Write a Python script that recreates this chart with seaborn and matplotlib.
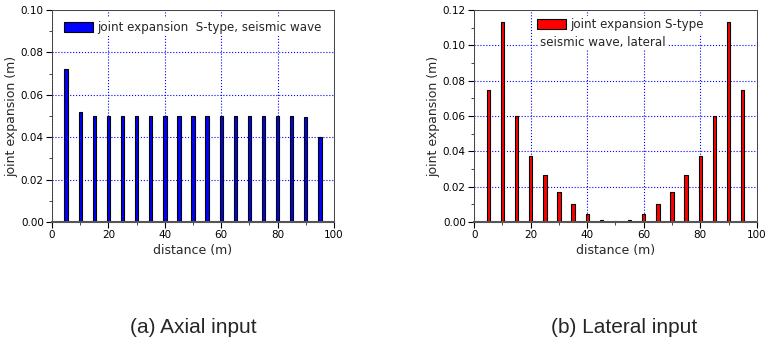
import numpy as np
import pandas as pd
import matplotlib
matplotlib.use("Agg")
import matplotlib.pyplot as plt
from matplotlib.patches import Patch
from matplotlib.ticker import MultipleLocator, FormatStrFormatter
import seaborn as sns

# data
distance = [5, 10, 15, 20, 25, 30, 35, 40, 45, 50, 55, 60, 65, 70, 75, 80, 85, 90, 95]
axial_exp = [0.072, 0.052, 0.050, 0.050, 0.050, 0.050, 0.050, 0.050, 0.050, 0.050,
             0.050, 0.050, 0.050, 0.050, 0.050, 0.050, 0.050, 0.0494, 0.040]
lateral_exp = [0.0745, 0.113, 0.060, 0.0375, 0.0265, 0.017, 0.010, 0.0045, 0.0012, 0.0003,
               0.0012, 0.0045, 0.010, 0.017, 0.0265, 0.0375, 0.060, 0.113, 0.0745]

axial_label = "joint expansion  S-type, seismic wave"
lateral_label = "joint expansion S-type"
lateral_label2 = "seismic wave, lateral"
captions = ["(a) Axial input", "(b) Lateral input"]

sns.set_style("white")
plt.rcParams["font.family"] = ["DejaVu Sans"]
plt.rcParams["font.size"] = 8

fig = plt.figure(figsize=(7.66, 3.42), dpi=100)
ax1 = fig.add_axes([0.068, 0.351, 0.368, 0.620])
ax2 = fig.add_axes([0.619, 0.351, 0.369, 0.620])

df = pd.DataFrame({"distance": distance, "axial": axial_exp, "lateral": lateral_exp})


def style_axis(ax, ymax):
    ax.set_xlim(0, 100)
    ax.set_ylim(0, ymax)
    ax.xaxis.set_major_locator(MultipleLocator(20))
    ax.xaxis.set_minor_locator(MultipleLocator(10))
    ax.yaxis.set_major_locator(MultipleLocator(0.02))
    ax.yaxis.set_minor_locator(MultipleLocator(0.01))
    ax.yaxis.set_major_formatter(FormatStrFormatter("%.2f"))
    ax.tick_params(which="major", direction="out", length=4, width=0.8,
                   labelsize=7.5, colors="black", left=True, bottom=True, pad=2)
    ax.tick_params(which="minor", direction="out", length=2, width=0.6,
                   left=True, bottom=True)
    ax.grid(True, which="major", color="#0000ff", linestyle=":", linewidth=0.8)
    ax.set_axisbelow(True)
    for side in ["left", "top", "right"]:
        ax.spines[side].set_color("#444444")
        ax.spines[side].set_linewidth(0.7)
    ax.spines["bottom"].set_color("#555555")
    ax.spines["bottom"].set_linewidth(1.5)
    ax.set_xlabel("distance (m)", fontsize=9, labelpad=3)
    ax.set_ylabel("joint expansion (m)", fontsize=9, labelpad=2)


sns.barplot(data=df, x="distance", y="axial", native_scale=True, width=0.24,
            color="#0000ff", saturation=1, edgecolor="black", linewidth=0.8, ax=ax1)
sns.barplot(data=df, x="distance", y="lateral", native_scale=True, width=0.24,
            color="#ff0000", saturation=1, edgecolor="black", linewidth=0.8, ax=ax2)

style_axis(ax1, 0.10)
style_axis(ax2, 0.12)

leg_kw = dict(loc="upper left", frameon=True, fontsize=8.6, handlelength=2.4,
              handleheight=0.9, handletextpad=0.35, borderpad=0.2, borderaxespad=0)

leg1 = ax1.legend(handles=[Patch(facecolor="#0000ff", edgecolor="black", linewidth=0.8,
                                 label=axial_label)],
                  bbox_to_anchor=(0.035, 0.96), **leg_kw)
leg2 = ax2.legend(handles=[Patch(facecolor="#ff0000", edgecolor="black", linewidth=0.8,
                                 label=lateral_label)],
                  bbox_to_anchor=(0.215, 0.972), **leg_kw)
for leg in (leg1, leg2):
    leg.get_frame().set_facecolor("white")
    leg.get_frame().set_edgecolor("none")
    leg.get_frame().set_alpha(1)

ax2.text(0.232, 0.848, lateral_label2, transform=ax2.transAxes, fontsize=8.6,
         va="center", ha="left", zorder=6,
         bbox=dict(facecolor="white", edgecolor="none", pad=1.0))

fig.text(0.253, 0.041, captions[0], ha="center", va="center", fontsize=15,
         family=["Liberation Sans", "DejaVu Sans"])
fig.text(0.815, 0.041, captions[1], ha="center", va="center", fontsize=15,
         family=["Liberation Sans", "DejaVu Sans"])

fig.savefig("out.png", dpi=100)
